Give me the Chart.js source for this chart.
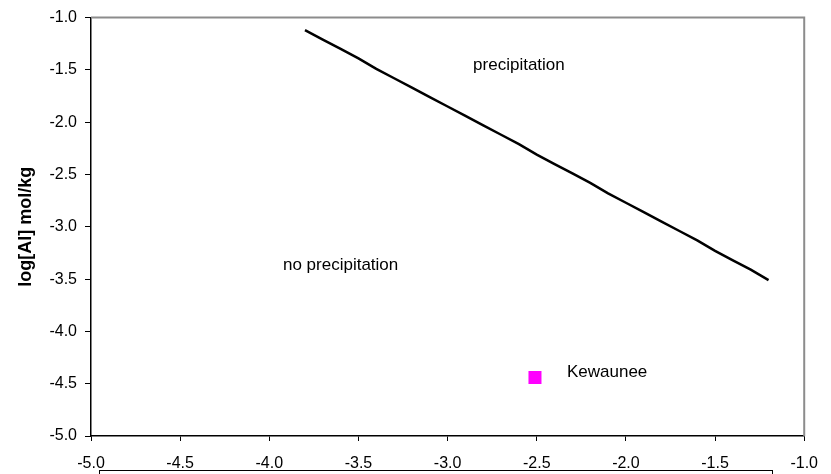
<!DOCTYPE html>
<html>
<head>
<meta charset="utf-8">
<script src="https://cdn.jsdelivr.net/npm/chart.js@4/dist/chart.umd.min.js"></script>
<style>
  html, body { margin: 0; padding: 0; background: #fff; }
  #wrap { width: 831px; height: 474px; }
</style>
</head>
<body>
<div id="wrap"><canvas id="alChart" width="831" height="474"></canvas></div>
<script>
// boundary line: log[F] vs log[Al]
const boundaryX = [-3.8, -3.7, -3.6, -3.5, -3.4, -3.3, -3.2, -3.1, -3.0, -2.9, -2.8, -2.7, -2.6, -2.5,
                   -2.4, -2.3, -2.2, -2.1, -2.0, -1.9, -1.8, -1.7, -1.6, -1.5, -1.4, -1.3, -1.2]
const boundaryY = [-1.12, -1.21, -1.30, -1.39, -1.49, -1.58, -1.67, -1.76, -1.85, -1.94, -2.03, -2.12, -2.21, -2.31,
                   -2.40, -2.49, -2.58, -2.68, -2.77, -2.86, -2.95, -3.04, -3.13, -3.23, -3.32, -3.41, -3.51]
// sample point
const sampleNames = ['Kewaunee']
const sampleX = [-2.51]
const sampleY = [-4.44]
// region labels
const regionNames = ['precipitation', 'no precipitation']
const regionX = [-2.6, -3.6]
const regionY = [-1.46, -3.37]

const axisTicks = [-5.0, -4.5, -4.0, -3.5, -3.0, -2.5, -2.0, -1.5, -1.0]

const family = "'Liberation Sans', Arial, sans-serif"
const font = { family, size: 16 }

const frame = {
  id: 'frame',
  afterDraw(chart) {
    const { ctx, chartArea: a, scales } = chart
    ctx.save()
    ctx.strokeStyle = '#8c8c8c'
    ctx.lineWidth = 2
    ctx.beginPath()
    ctx.moveTo(a.left, a.top)
    ctx.lineTo(a.right, a.top)
    ctx.lineTo(a.right, a.bottom)
    ctx.stroke()
    ctx.strokeStyle = '#000'
    ctx.lineWidth = 1
    ctx.strokeRect(99.5, 470.5, 673, 20)
    ctx.fillStyle = '#000'
    ctx.font = '17px ' + family
    ctx.textBaseline = 'middle'
    ctx.textAlign = 'center'
    regionNames.forEach((t, i) => {
      ctx.fillText(t, scales.x.getPixelForValue(regionX[i]), scales.y.getPixelForValue(regionY[i]))
    })
    ctx.textAlign = 'left'
    sampleNames.forEach((t, i) => {
      ctx.fillText(t, scales.x.getPixelForValue(sampleX[i]) + 32, scales.y.getPixelForValue(sampleY[i]) - 5)
    })
    ctx.restore()
  }
}

new Chart('alChart', {
  type: 'scatter',
  data: {
    datasets: [
      {
        data: boundaryX.map((x, i) => ({ x, y: boundaryY[i] })),
        showLine: true,
        borderColor: '#000',
        borderWidth: 2.5,
        pointRadius: 0,
        tension: 0
      },
      {
        data: sampleX.map((x, i) => ({ x, y: sampleY[i] })),
        pointStyle: 'rect',
        pointRadius: 9.2,
        backgroundColor: '#ff00ff',
        borderColor: '#ff00ff',
        borderWidth: 0
      }
    ]
  },
  options: {
    responsive: false,
    animation: false,
    layout: { padding: { left: 0, right: 24, top: 12, bottom: 0 } },
    plugins: { legend: { display: false }, tooltip: { enabled: false } },
    scales: {
      x: {
        type: 'linear',
        min: -5, max: -1,
        afterBuildTicks: s => { s.ticks = axisTicks.map(v => ({ value: v })) },
        afterFit: s => { s.height = 38 },
        grid: { drawOnChartArea: false, tickLength: 5, color: '#000' },
        border: { color: '#000', width: 1.5 },
        ticks: { font, color: '#000', padding: 13, maxRotation: 0, callback: v => v.toFixed(1) }
      },
      y: {
        type: 'linear',
        min: -5, max: -1,
        afterBuildTicks: s => { s.ticks = axisTicks.map(v => ({ value: v })) },
        afterFit: s => { s.width = 91 },
        grid: { drawOnChartArea: false, tickLength: 6, color: '#000' },
        border: { color: '#000', width: 1.5 },
        title: {
          display: true,
          text: 'log[Al] mol/kg',
          color: '#000',
          font: { family, size: 18, weight: 'bold' },
          padding: { top: 15, bottom: 0 }
        },
        ticks: { font, color: '#000', padding: 8, callback: v => v.toFixed(1) }
      }
    }
  },
  plugins: [frame]
})
</script>
</body>
</html>
